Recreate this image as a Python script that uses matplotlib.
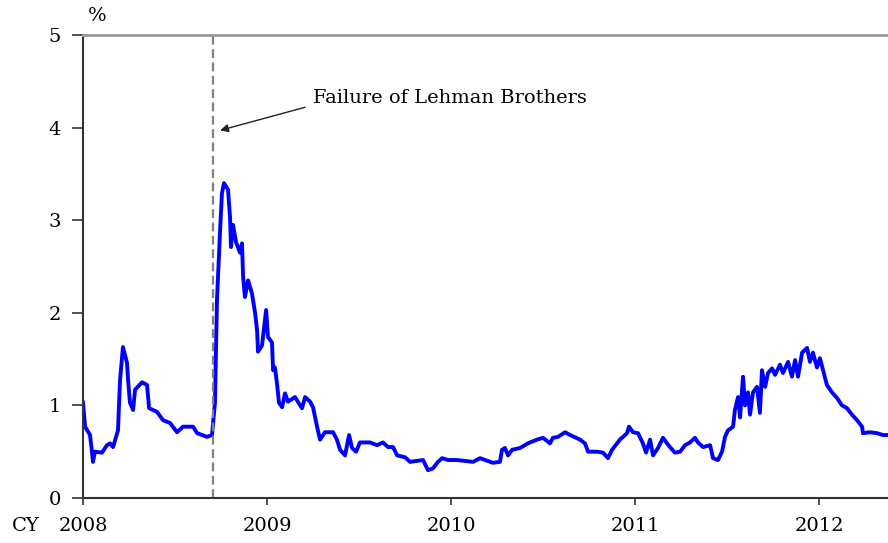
import matplotlib
matplotlib.use("Agg")
import matplotlib.pyplot as plt

# spread (%); time in years after 2008-01-01
years = [0.000, 0.011, 0.038, 0.049, 0.054, 0.065, 0.103, 0.130, 0.147, 0.163,
         0.190, 0.201, 0.217, 0.239, 0.245, 0.255, 0.272, 0.283, 0.321, 0.348,
         0.359, 0.402, 0.435, 0.473, 0.511, 0.543, 0.598, 0.620, 0.674, 0.701,
         0.717, 0.728, 0.745, 0.755, 0.766, 0.788, 0.799, 0.804, 0.815, 0.832,
         0.853, 0.864, 0.870, 0.880, 0.897, 0.918, 0.935, 0.946, 0.951, 0.973,
         0.995, 1.005, 1.027, 1.033, 1.043, 1.054, 1.065, 1.082, 1.098, 1.114,
         1.152, 1.190, 1.207, 1.234, 1.250, 1.272, 1.288, 1.315, 1.359, 1.380,
         1.397, 1.424, 1.446, 1.462, 1.484, 1.505, 1.560, 1.598, 1.630, 1.658,
         1.685, 1.707, 1.750, 1.777, 1.848, 1.875, 1.902, 1.929, 1.951, 1.984,
         2.033, 2.120, 2.158, 2.185, 2.228, 2.266, 2.277, 2.293, 2.310, 2.332,
         2.375, 2.418, 2.467, 2.500, 2.538, 2.554, 2.582, 2.620, 2.647, 2.701,
         2.728, 2.745, 2.793, 2.826, 2.853, 2.875, 2.918, 2.957, 2.967, 2.989,
         3.016, 3.043, 3.060, 3.082, 3.098, 3.125, 3.152, 3.174, 3.190, 3.217,
         3.245, 3.272, 3.299, 3.326, 3.342, 3.370, 3.408, 3.424, 3.451, 3.473,
         3.489, 3.505, 3.533, 3.543, 3.560, 3.571, 3.587, 3.598, 3.614, 3.625,
         3.641, 3.663, 3.679, 3.690, 3.707, 3.723, 3.745, 3.761, 3.788, 3.804,
         3.832, 3.853, 3.870, 3.886, 3.908, 3.935, 3.951, 3.967, 3.989, 4.005,
         4.022, 4.043, 4.071, 4.098, 4.125, 4.152, 4.179, 4.207, 4.234, 4.239,
         4.277, 4.315, 4.348, 4.375]
spread = [1.03, 0.77, 0.68, 0.49, 0.39, 0.50, 0.49, 0.57, 0.59, 0.55,
          0.73, 1.27, 1.63, 1.46, 1.27, 1.03, 0.95, 1.17, 1.25, 1.22,
          0.97, 0.93, 0.84, 0.81, 0.71, 0.77, 0.77, 0.70, 0.66, 0.68,
          1.03, 2.14, 2.89, 3.29, 3.40, 3.33, 3.03, 2.71, 2.95, 2.76,
          2.65, 2.75, 2.39, 2.17, 2.35, 2.21, 2.00, 1.81, 1.58, 1.65,
          2.03, 1.74, 1.68, 1.38, 1.41, 1.24, 1.03, 0.98, 1.13, 1.04,
          1.09, 0.97, 1.09, 1.04, 0.98, 0.77, 0.63, 0.71, 0.71, 0.63,
          0.52, 0.46, 0.68, 0.54, 0.50, 0.60, 0.60, 0.57, 0.60, 0.55,
          0.55, 0.46, 0.44, 0.39, 0.41, 0.30, 0.32, 0.39, 0.43, 0.41,
          0.41, 0.39, 0.43, 0.41, 0.38, 0.39, 0.52, 0.54, 0.46, 0.52,
          0.54, 0.59, 0.63, 0.65, 0.59, 0.65, 0.66, 0.71, 0.68, 0.63,
          0.59, 0.50, 0.50, 0.49, 0.43, 0.52, 0.63, 0.70, 0.77, 0.71,
          0.70, 0.59, 0.49, 0.63, 0.46, 0.54, 0.65, 0.59, 0.55, 0.49,
          0.50, 0.57, 0.60, 0.65, 0.60, 0.55, 0.57, 0.43, 0.41, 0.50,
          0.66, 0.73, 0.77, 0.95, 1.09, 0.87, 1.31, 1.00, 1.14, 0.90,
          1.14, 1.20, 0.92, 1.38, 1.20, 1.35, 1.40, 1.33, 1.44, 1.35,
          1.47, 1.31, 1.49, 1.31, 1.57, 1.62, 1.47, 1.57, 1.41, 1.51,
          1.38, 1.22, 1.14, 1.08, 1.00, 0.97, 0.90, 0.84, 0.77, 0.70,
          0.71, 0.70, 0.68, 0.68]

tick_years = [2008, 2009, 2010, 2011, 2012]
lehman = 2008.707
FONT = ['DejaVu Serif']
FS = 14

fig = plt.figure(figsize=(8.88, 5.43), dpi=100)
ax = fig.add_axes([0.0935, 0.0829, 0.9065, 0.8526])

ax.plot([2008 + t for t in years], spread, color='#0000FF', lw=2.8,
        solid_joinstyle='round')
ax.axvline(lehman, color='#808080', lw=1.6, ls=(0, (4, 2)))

# label and arrow pointing at the Lehman line
ax.text(2009.25, 4.32, 'Failure of Lehman Brothers', fontsize=FS,
        family=FONT, va='center', ha='left')
ax.annotate('', xy=(2008.745, 3.97), xytext=(2009.207, 4.22),
            arrowprops=dict(arrowstyle='-|>', color='#222222', lw=1.0,
                            shrinkA=0, shrinkB=0, mutation_scale=12))

ax.set_xlim(2008, 2012.375)
ax.set_ylim(0, 5)
ax.set_yticks(range(6))
ax.set_xticks(tick_years)
ax.set_xticklabels([str(y) for y in tick_years], family=FONT, fontsize=FS)
ax.set_yticklabels([str(v) for v in range(6)], family=FONT, fontsize=FS)
ax.tick_params(axis='y', direction='out', length=8, width=1.2, pad=8,
               color='#333333')
ax.tick_params(axis='x', direction='out', length=5, width=1.2, pad=9,
               color='#333333')

ax.spines['right'].set_visible(False)
ax.spines['top'].set_color('#999999')
ax.spines['top'].set_linewidth(2)
ax.spines['left'].set_color('#333333')
ax.spines['bottom'].set_color('#333333')
ax.spines['left'].set_linewidth(1.5)
ax.spines['bottom'].set_linewidth(1.5)

fig.text(97 / 888, 1 - 16 / 543, '%', ha='center', va='center',
         fontsize=FS, family=FONT)
fig.text(26 / 888, 1 - 526 / 543, 'CY', ha='center', va='center',
         fontsize=FS, family=FONT)

fig.savefig('out.png', dpi=100)
